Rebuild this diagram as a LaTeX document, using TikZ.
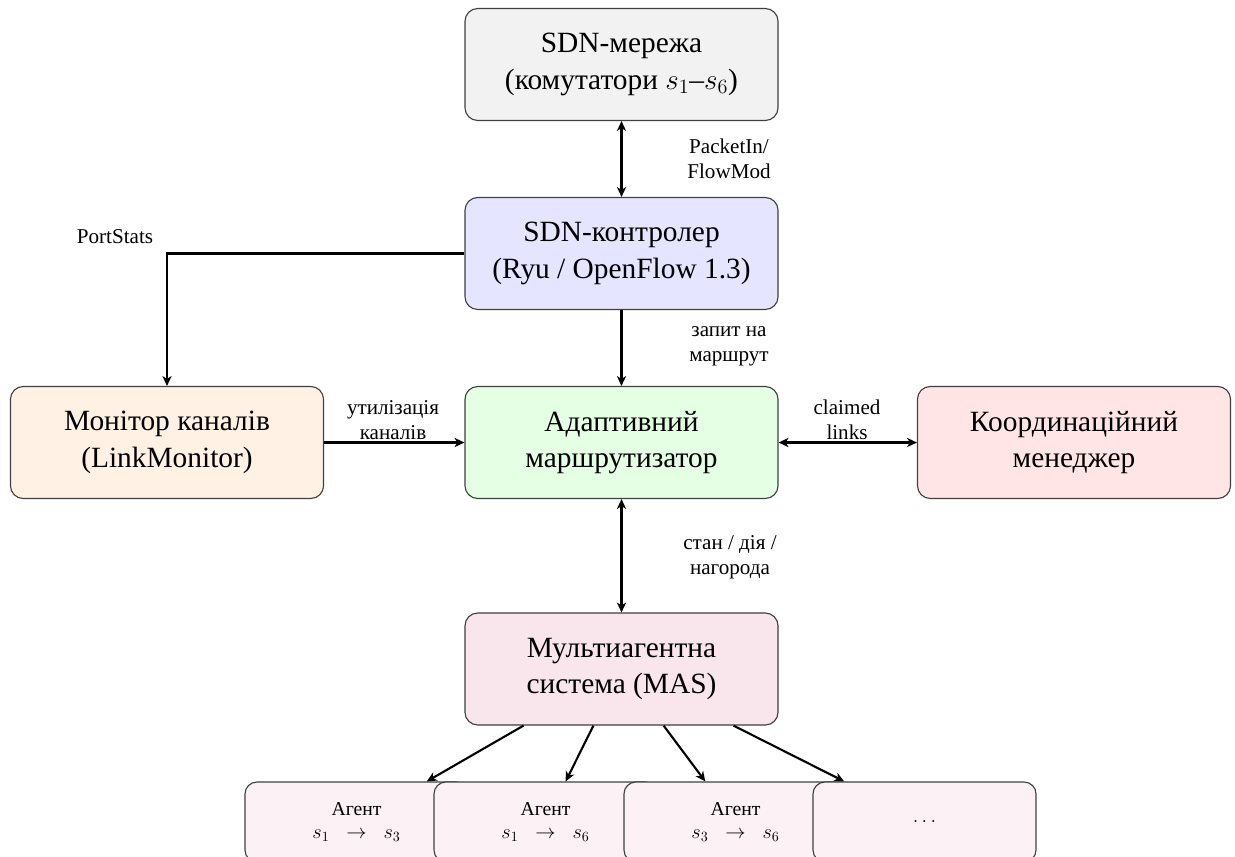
\documentclass[tikz,border=0pt]{standalone}
\usepackage{fontspec}
\setmainfont{Liberation Serif}
\usetikzlibrary{arrows.meta}
\tikzset{
  box/.style={draw=black!75, line width=0.8pt, rounded corners=0.32cm, inner sep=0pt,
    minimum width=7.825cm, minimum height=2.8cm, align=center,
    font=\fontsize{20.9}{26}\selectfont},
  agentbox/.style={draw=black!75, line width=0.8pt, rounded corners=0.3cm, inner sep=0pt,
    minimum width=5.575cm, minimum height=2cm, align=center, fill=purple!5,
    font=\fontsize{14}{17}\selectfont},
  lbl/.style={align=center, inner sep=0pt, font=\fontsize{15}{18}\selectfont},
  conn/.style={line width=1.5pt, -{Stealth[length=7pt,width=6.5pt,inset=2pt]}},
  dconn/.style={line width=1.5pt, {Stealth[length=7pt,width=6.5pt,inset=2pt]}-{Stealth[length=7pt,width=6.5pt,inset=2pt]}}
}
\begin{document}
\begin{tikzpicture}[x=0.025cm, y=-0.025cm]
\useasboundingbox (0,0) rectangle (1235,856);
\clip (0,0) rectangle (1235,856);

\node[box, fill=gray!10] (net) at (621.5,64.5) {SDN-мережа\\(комутатори $s_1$–$s_6$)};
\node[box, fill=blue!10] (ctrl) at (621.5,253.5) {SDN-контролер\\(Ryu / OpenFlow 1.3)};
\node[box, fill=green!10] (router) at (621.5,442.5) {Адаптивний\\маршрутизатор};
\node[box, fill=orange!10] (mon) at (167,442.5) {Монітор каналів\\(LinkMonitor)};
\node[box, fill=red!10] (coord) at (1074,442.5) {Координаційний\\менеджер};
\node[box, fill=purple!10] (mas) at (621.5,669) {Мультиагентна\\система (MAS)};

\node[agentbox] (a1) at (356.5,822) {Агент\\$s_1\;\;\to\;\; s_3$};
\node[agentbox] (a2) at (545.5,822) {Агент\\$s_1\;\;\to\;\; s_6$};
\node[agentbox] (a3) at (735.5,822) {Агент\\$s_3\;\;\to\;\; s_6$};
\node[agentbox] (a4) at (924.5,822) {$\dots$};

\draw[dconn] (net) -- (ctrl);
\node[lbl] (l1) at (729,159) {PacketIn/\\FlowMod};

\draw[conn] (ctrl.west) -| (mon.north);
\node[lbl] (l2) at (115,237) {PortStats};

\draw[conn] (ctrl) -- (router);
\node[lbl] (l3) at (729,346) {запит на\\маршрут};

\draw[conn] (mon) -- (router);
\node[lbl] (l4) at (393,420) {утилізація\\каналів};

\draw[dconn] (router) -- (coord);
\node[lbl] (l5) at (847,420) {claimed\\links};

\draw[dconn] (router) -- (mas);
\node[lbl] (l6) at (730,557) {стан / дія /\\нагорода};

\draw[conn] (mas) -- (a1);
\draw[conn] (mas) -- (a2);
\draw[conn] (mas) -- (a3);
\draw[conn] (mas) -- (a4);
\end{tikzpicture}
\end{document}
